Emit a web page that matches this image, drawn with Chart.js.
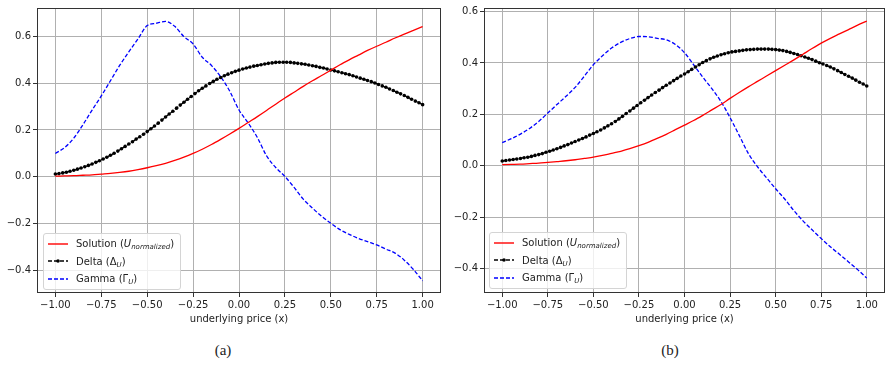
<!DOCTYPE html>
<html>
<head>
<meta charset="utf-8">
<script src="https://cdn.jsdelivr.net/npm/chart.js@4.4.0/dist/chart.umd.min.js"></script>
<style>
  body { margin: 0; background: #fff; }
  #page { position: relative; width: 889px; height: 365px; overflow: hidden; font-family: "DejaVu Sans", sans-serif; }
  canvas { position: absolute; top: 0; }
  .legend { position: absolute; border: 1px solid #d4d4d4; border-radius: 3px; background: rgba(255,255,255,0.8);
            padding: 1px 6px 1px 4px; font-size: 10px; color: #222; white-space: nowrap; }
  .legend .row { display: flex; align-items: center; height: 17.5px; }
  .legend svg { margin-right: 8px; flex: none; }
  .legend sub { font-size: 7px; vertical-align: -2px; line-height: 0; }
  .caption { position: absolute; top: 342px; width: 60px; text-align: center; font-family: "Liberation Serif", serif; font-size: 15px; color: #222; }
</style>
</head>
<body>
<div id="page">
  <canvas id="plotA" width="445" height="330" style="left:0"></canvas>
  <canvas id="plotB" width="444" height="330" style="left:445px"></canvas>
  <div class="legend" id="legendA" style="left:43px; top:233px"></div>
  <div class="legend" id="legendB" style="left:489px; top:232px"></div>
  <div class="caption" style="left:193px">(a)</div>
  <div class="caption" style="left:640px">(b)</div>
</div>
<script>
const xTicks = [-1, -0.75, -0.5, -0.25, 0, 0.25, 0.5, 0.75, 1];
const yTicks = [-0.4, -0.2, 0, 0.2, 0.4, 0.6];
const seriesLabels = [
  'Solution (<i>U</i><sub><i>normalized</i></sub>)',
  'Delta (Δ<sub><i>U</i></sub>)',
  'Gamma (Γ<sub><i>U</i></sub>)'
];

// x positions: solution and gamma read every 0.05, delta every 0.02 (one marker per point)
function grid(n) {
  const out = [];
  for (let i = 0; i < n; i++) out.push(-1 + 2 * i / (n - 1));
  return out;
}
const xCoarse = grid(41);
const xFine = grid(101);

// (a)
const solutionA = [0.003, 0.004, 0.005, 0.007, 0.009, 0.012, 0.015, 0.019, 0.024, 0.031,
  0.039, 0.048, 0.058, 0.070, 0.084, 0.100, 0.118, 0.138, 0.160, 0.183,
  0.207, 0.232, 0.257, 0.283, 0.310, 0.336, 0.361, 0.386, 0.410, 0.432,
  0.455, 0.478, 0.499, 0.519, 0.539, 0.557, 0.574, 0.592, 0.609, 0.625, 0.641];
const gammaA = [0.100, 0.125, 0.165, 0.222, 0.285, 0.345, 0.410, 0.475, 0.533, 0.588,
  0.645, 0.655, 0.663, 0.642, 0.598, 0.567, 0.510, 0.475, 0.427, 0.365,
  0.285, 0.230, 0.168, 0.090, 0.040, 0.002, -0.045, -0.095, -0.133, -0.168,
  -0.198, -0.225, -0.245, -0.262, -0.276, -0.290, -0.308, -0.325, -0.355, -0.395, -0.443];
const deltaA = [0.012,
  0.014, 0.017, 0.020, 0.024, 0.028, 0.033, 0.038, 0.043, 0.049, 0.055,
  0.062, 0.069, 0.076, 0.084, 0.092, 0.101, 0.110, 0.120, 0.130, 0.140,
  0.150, 0.161, 0.171, 0.182, 0.193, 0.205, 0.217, 0.229, 0.242, 0.255,
  0.268, 0.280, 0.293, 0.306, 0.318, 0.331, 0.343, 0.355, 0.367, 0.378,
  0.388, 0.398, 0.407, 0.416, 0.424, 0.431, 0.438, 0.444, 0.450, 0.455,
  0.460, 0.464, 0.468, 0.472, 0.475, 0.478, 0.481, 0.484, 0.486, 0.488,
  0.489, 0.489, 0.489, 0.488, 0.486, 0.484, 0.482, 0.480, 0.477, 0.474,
  0.471, 0.467, 0.464, 0.460, 0.456, 0.452, 0.448, 0.444, 0.440, 0.436,
  0.431, 0.426, 0.421, 0.416, 0.411, 0.406, 0.400, 0.394, 0.388, 0.382,
  0.375, 0.368, 0.361, 0.354, 0.347, 0.339, 0.331, 0.323, 0.316, 0.308];

// (b)
const solutionB = [0.004, 0.005, 0.006, 0.008, 0.010, 0.013, 0.016, 0.019, 0.023, 0.028,
  0.033, 0.040, 0.048, 0.056, 0.066, 0.078, 0.091, 0.106, 0.122, 0.140,
  0.158, 0.176, 0.196, 0.217, 0.238, 0.262, 0.285, 0.307, 0.328, 0.349,
  0.370, 0.391, 0.412, 0.434, 0.456, 0.477, 0.496, 0.513, 0.530, 0.547, 0.563];
const gammaB = [0.090, 0.105, 0.123, 0.145, 0.172, 0.205, 0.238, 0.270, 0.305, 0.348,
  0.393, 0.428, 0.458, 0.480, 0.495, 0.503, 0.502, 0.496, 0.490, 0.472,
  0.440, 0.393, 0.345, 0.300, 0.250, 0.187, 0.118, 0.048, -0.004, -0.047,
  -0.090, -0.130, -0.175, -0.215, -0.250, -0.284, -0.316, -0.345, -0.375, -0.405, -0.438];
const deltaB = [0.018,
  0.020, 0.022, 0.024, 0.026, 0.028, 0.031, 0.033, 0.036, 0.040, 0.043,
  0.047, 0.052, 0.056, 0.061, 0.066, 0.071, 0.077, 0.082, 0.088, 0.094,
  0.100, 0.106, 0.112, 0.119, 0.125, 0.132, 0.139, 0.147, 0.155, 0.163,
  0.172, 0.182, 0.192, 0.203, 0.213, 0.224, 0.234, 0.245, 0.255, 0.265,
  0.275, 0.285, 0.294, 0.304, 0.313, 0.322, 0.331, 0.340, 0.349, 0.357,
  0.366, 0.375, 0.384, 0.393, 0.402, 0.409, 0.416, 0.422, 0.427, 0.432,
  0.436, 0.440, 0.443, 0.445, 0.447, 0.449, 0.451, 0.452, 0.453, 0.454,
  0.454, 0.454, 0.454, 0.453, 0.452, 0.450, 0.448, 0.445, 0.441, 0.437,
  0.433, 0.428, 0.423, 0.418, 0.413, 0.407, 0.401, 0.396, 0.390, 0.384,
  0.377, 0.370, 0.363, 0.355, 0.348, 0.341, 0.333, 0.325, 0.318, 0.310];

Chart.defaults.font.family = '"DejaVu Sans", sans-serif';
Chart.defaults.font.size = 10;
Chart.defaults.color = '#222';

function fmt(v, digits) {
    if (Math.abs(v) < 1e-9) v = 0;
    return (v < 0 ? '\u2212' : '') + Math.abs(v).toFixed(digits);
}

function pairs(xs, ys) {
    return ys.map((y, i) => ({x: xs[i], y: y}));
}

const frame = {
    id: 'frame',
    afterDraw(chart) {
        const {ctx, chartArea: a} = chart;
        ctx.save();
        ctx.strokeStyle = '#333';
        ctx.lineWidth = 1;
        ctx.strokeRect(Math.round(a.left) + 0.5, Math.round(a.top) + 0.5,
            Math.round(a.right - a.left) - 1, Math.round(a.bottom - a.top) - 1);
        ctx.restore();
    }
};

function buildLegend(el, datasets) {
    datasets.forEach((ds, i) => {
        const dash = ds.borderDash ? ds.borderDash.join(' ') : '';
        const dot = ds.pointRadius ? `<circle cx="10" cy="4" r="1.8" fill="${ds.borderColor}"/>` : '';
        el.insertAdjacentHTML('beforeend',
            `<div class="row"><svg width="20" height="8"><line x1="0" y1="4" x2="20" y2="4" stroke="${ds.borderColor}"
             stroke-width="1.4" stroke-dasharray="${dash}"/>${dot}</svg><span>${seriesLabels[i]}</span></div>`);
    });
}

function makePlot(canvasId, legendId, sol, delta, gamma, yMin, yMax, yWidth, padRight) {
    const datasets = [
        {
            label: 'Solution', data: pairs(xCoarse, sol),
            borderColor: '#ff0000', borderWidth: 1.3, pointRadius: 0,
            cubicInterpolationMode: 'monotone',
        },
        {
            label: 'Delta', data: pairs(xFine, delta),
            borderColor: '#000000', borderWidth: 1.3, borderDash: [4, 2],
            pointRadius: 1.8, pointBorderWidth: 0, pointBackgroundColor: '#000000',
        },
        {
            label: 'Gamma', data: pairs(xCoarse, gamma),
            borderColor: '#0000ff', borderWidth: 1.3, borderDash: [4, 2],
            pointRadius: 0, cubicInterpolationMode: 'monotone',
        },
    ];
    const gridStyle = {color: '#b0b0b0', lineWidth: 1, tickColor: '#333', tickLength: 4};
    new Chart(document.getElementById(canvasId), {
        type: 'line',
        data: {datasets: datasets},
        options: {
            responsive: false,
            animation: false,
            devicePixelRatio: 1,
            layout: {padding: {left: 0, right: padRight, top: 5, bottom: 0}},
            scales: {
                x: {
                    type: 'linear', min: -1.1, max: 1.1,
                    afterBuildTicks: s => { s.ticks = xTicks.map(v => ({value: v})); },
                    afterFit: s => { s.height = 37; },
                    ticks: {callback: v => fmt(v, 2), padding: 2, maxRotation: 0, autoSkip: false},
                    grid: gridStyle,
                    border: {display: false},
                    title: {display: true, text: 'underlying price (x)', padding: {top: 0, bottom: 5}},
                },
                y: {
                    min: yMin, max: yMax,
                    afterBuildTicks: s => { s.ticks = yTicks.map(v => ({value: v})); },
                    afterFit: s => { s.width = yWidth; },
                    ticks: {callback: v => fmt(v, 1), padding: 2},
                    grid: gridStyle,
                    border: {display: false},
                },
            },
            plugins: {
                legend: {display: false},
                tooltip: {enabled: false},
            },
        },
        plugins: [frame],
    });
    buildLegend(document.getElementById(legendId), datasets);
}

makePlot('plotA', 'legendA', solutionA, deltaA, gammaA, -0.495, 0.72, 37, 4);
makePlot('plotB', 'legendB', solutionB, deltaB, gammaB, -0.496, 0.614, 39, 0);
</script>
</body>
</html>
